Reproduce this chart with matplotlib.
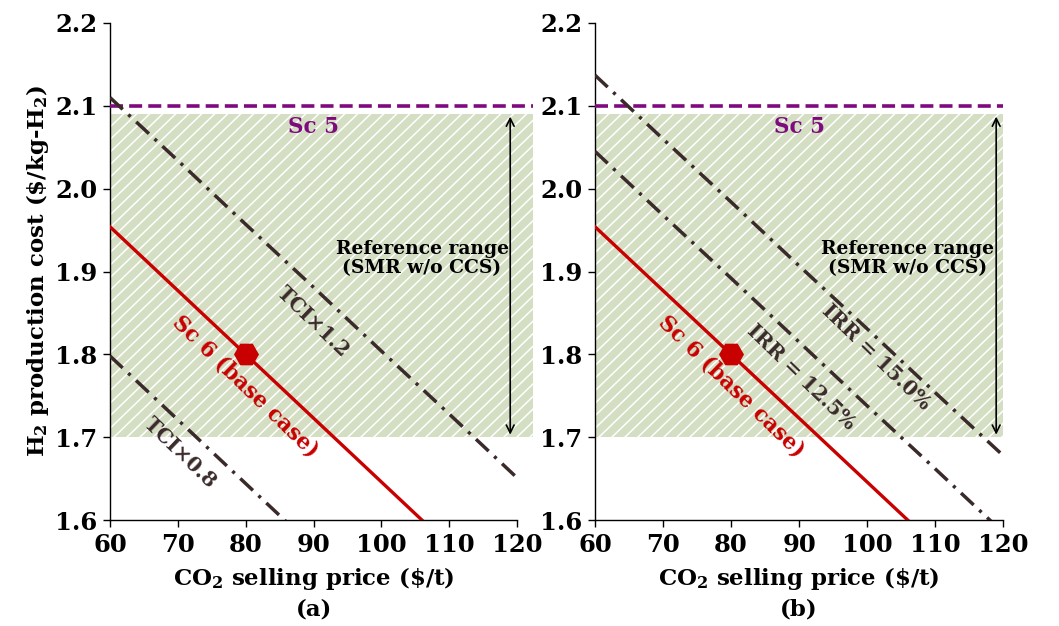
import numpy as np
import matplotlib
matplotlib.use("Agg")
import matplotlib.pyplot as plt
from matplotlib.patches import Rectangle
from matplotlib.collections import LineCollection

# ---- data -------------------------------------------------------------
co2_price = [60, 70, 80, 90, 100, 110, 120]            # $/t
sc6_base = [1.954, 1.877, 1.800, 1.723, 1.646, 1.569, 1.492]
tci_x12 = [2.110, 2.034, 1.957, 1.881, 1.804, 1.728, 1.651]
tci_x08 = [1.798, 1.721, 1.644, 1.567, 1.490, 1.413, 1.336]
irr_150 = [2.137, 2.060, 1.984, 1.907, 1.831, 1.754, 1.678]
irr_125 = [2.045, 1.968, 1.892, 1.815, 1.738, 1.662, 1.585]

base_point = (80, 1.80)
sc5_cost = 2.10
ref_low, ref_high = 1.70, 2.09
ref_xmax = {"a": 122.4, "b": 120.0}

x_ticks = [60, 70, 80, 90, 100, 110, 120]
y_ticks = [1.6, 1.7, 1.8, 1.9, 2.0, 2.1, 2.2]

# ---- style ------------------------------------------------------------
FONT = "DejaVu Serif"
plt.rcParams.update({
    "font.family": FONT,
    "font.weight": "bold",
    "axes.labelweight": "bold",
    "mathtext.fontset": "custom",
    "mathtext.rm": FONT + ":bold",
    "mathtext.bf": FONT + ":bold",
    "mathtext.it": FONT + ":bold",
    "mathtext.default": "bf",
})

RED = "#c80000"
PURPLE = "#7e0a7e"
DARK = "#3a2a2a"
GREEN = "#d4dec3"

fig = plt.figure(figsize=(10.59, 6.26), dpi=100)
W, H = 1059, 626
ax_a = fig.add_axes([110 / W, 1 - 520 / H, 407 / W, 497 / H])
ax_b = fig.add_axes([595 / W, 1 - 520 / H, 408 / W, 497 / H])


def hatched_band(ax, x0, x1, y0, y1, spacing=13.0, angle=44):
    rect = Rectangle((x0, y0), x1 - x0, y1 - y0, facecolor=GREEN,
                     edgecolor="none", zorder=0.5, clip_on=False)
    ax.add_patch(rect)
    (px0, py0), (px1, py1) = ax.transData.transform([(x0, y0), (x1, y1)])
    w, h = px1 - px0, py1 - py0
    th = np.deg2rad(angle)
    d = np.array([np.cos(th), np.sin(th)])
    L = (w + h) * 2
    segs = []
    for c in np.arange(-2 * h, w + 2 * h, spacing):
        p = np.array([px0 + c, py0])
        segs.append(ax.transData.inverted().transform([p - d * L, p + d * L]))
    lc = LineCollection(segs, colors="white", linewidths=1.1, zorder=0.6)
    ax.add_collection(lc, autolim=False)
    lc.set_clip_path(rect)


dash_dot = (0, (5.0, 2.2, 0.9, 2.2))


def setup(ax, label, xmax_ref):
    ax.set_xlim(60, 120)
    ax.set_ylim(1.6, 2.2)
    ax.set_xticks(x_ticks)
    ax.set_yticks(y_ticks)
    ax.set_yticklabels([f"{v:.1f}" for v in y_ticks])
    for s in ("top", "right"):
        ax.spines[s].set_visible(False)
    for s in ("left", "bottom"):
        ax.spines[s].set_linewidth(1.0)
    ax.tick_params(direction="out", length=5, width=1.0, labelsize=17.5,
                   pad=4)
    ax.set_facecolor("none")

    hatched_band(ax, 60, xmax_ref, ref_low, ref_high)

    # Sc 5 reference level
    ax.plot([60, xmax_ref], [sc5_cost, sc5_cost], color=PURPLE, lw=2.6,
            dashes=(3.6, 1.7), zorder=3, clip_on=False)
    ax.text(90, 2.074, "Sc 5", color=PURPLE, fontsize=15.5, ha="center",
            va="center", zorder=6)

    # reference range arrow + label
    ax.annotate("", xy=(119.0, ref_low + 0.003), xytext=(119.0, ref_high - 0.003),
                arrowprops=dict(arrowstyle="<->", color="black", lw=1.2,
                                mutation_scale=14, shrinkA=0, shrinkB=0),
                zorder=5)
    ax.text(106, 1.916, "Reference range\n(SMR w/o CCS)", color="black",
            fontsize=13.5, ha="center", va="center", linespacing=1.05,
            zorder=6)

    # base case
    ax.plot(co2_price, sc6_base, color=RED, lw=2.4, zorder=4)
    ax.plot(*base_point, marker="H", markersize=18, color=RED,
            markeredgewidth=0, zorder=5)
    ax.text(80, 1.761, "Sc 6 (base case)", color=RED, fontsize=15.5,
            rotation=-44, rotation_mode="anchor", ha="center", va="center",
            zorder=6)

    ax.set_xlabel(r"CO$_2$ selling price (\$/t)", fontsize=16.5)
    ax.xaxis.set_label_coords(0.5, -0.117)
    ax.xaxis.label.set_va("center")
    ax.text(0.5, -0.181, label, transform=ax.transAxes, fontsize=16.5,
            ha="center", va="center")


setup(ax_a, "(a)", ref_xmax["a"])
setup(ax_b, "(b)", ref_xmax["b"])

ax_a.set_ylabel(r"H$_2$ production cost (\$/kg-H$_2$)", fontsize=16.5)
ax_a.yaxis.set_label_coords(-0.179, 0.5)
ax_a.yaxis.label.set_va("center")

# panel (a): capital investment sensitivity
ax_a.plot(co2_price, tci_x12, color=DARK, lw=2.5, linestyle=dash_dot, zorder=4)
ax_a.plot(co2_price, tci_x08, color=DARK, lw=2.5, linestyle=dash_dot, zorder=4)
ax_a.text(89.9, 1.839, "TCI×1.2", color=DARK, fontsize=14.5, rotation=-44,
          rotation_mode="anchor", ha="center", va="center", zorder=6)
ax_a.text(70.3, 1.681, "TCI×0.8", color=DARK, fontsize=14.5, rotation=-44,
          rotation_mode="anchor", ha="center", va="center", zorder=6)

# panel (b): IRR sensitivity
ax_b.plot(co2_price, irr_150, color=DARK, lw=2.5, linestyle=dash_dot, zorder=4)
ax_b.plot(co2_price, irr_125, color=DARK, lw=2.5, linestyle=dash_dot, zorder=4)
ax_b.text(101.3, 1.797, "IRR = 15.0%", color=DARK, fontsize=14.5, rotation=-44,
          rotation_mode="anchor", ha="center", va="center", zorder=6)
ax_b.text(90.3, 1.773, "IRR = 12.5%", color=DARK, fontsize=14.5, rotation=-44,
          rotation_mode="anchor", ha="center", va="center", zorder=6)

fig.savefig("out.png", dpi=100)
